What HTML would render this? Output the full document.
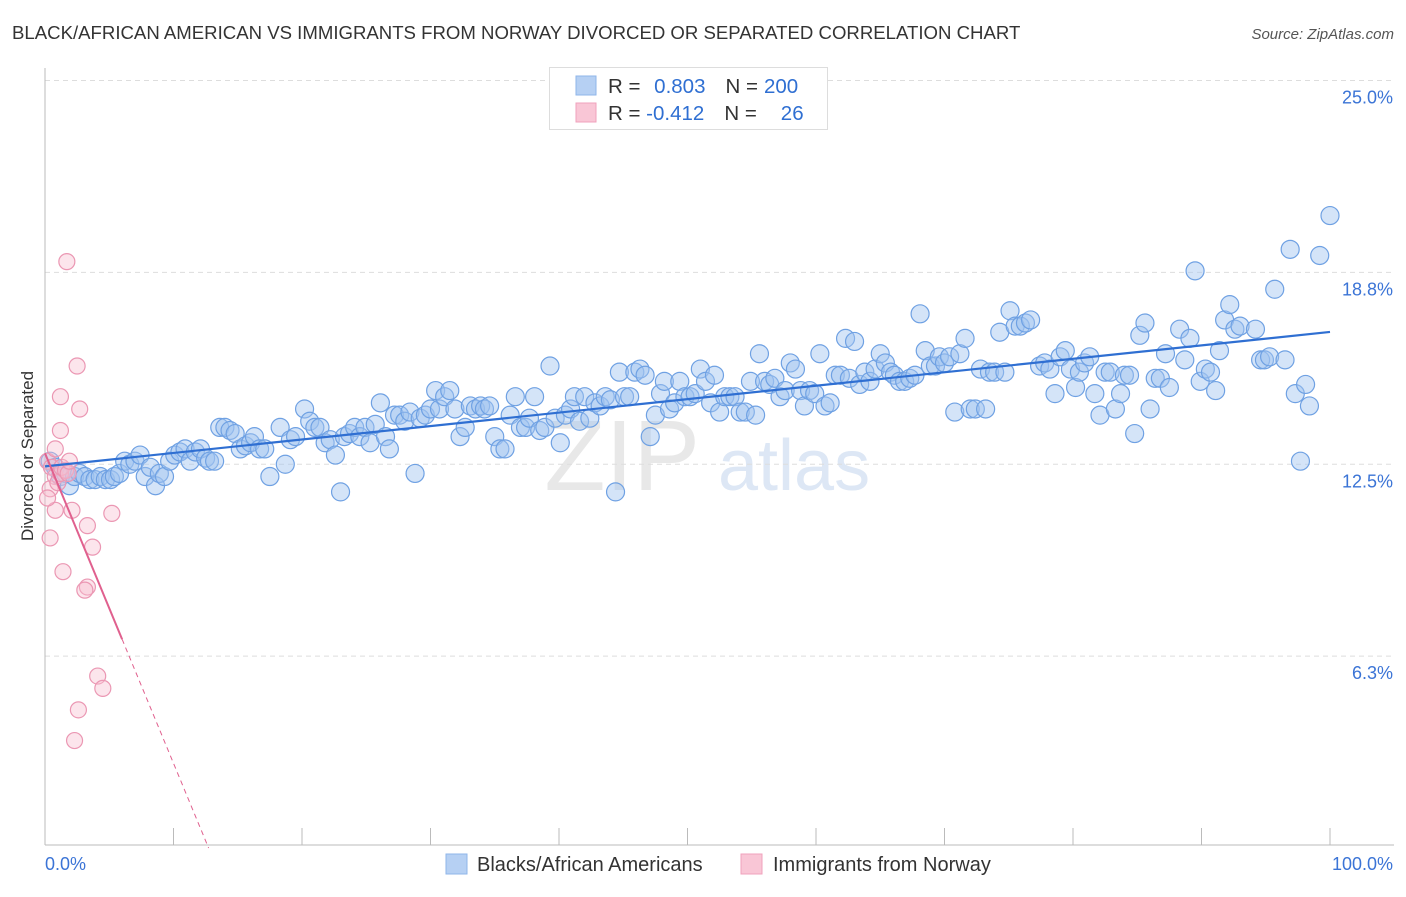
<!DOCTYPE html>
<html><head><meta charset="utf-8"><style>
body{margin:0;background:#fff;font-family:"Liberation Sans",sans-serif;}
svg text{font-family:"Liberation Sans",sans-serif;}
</style></head><body>
<svg id="chart" width="1406" height="892">
<text x="12" y="39" font-size="18.6" fill="#333">BLACK/AFRICAN AMERICAN VS IMMIGRANTS FROM NORWAY DIVORCED OR SEPARATED CORRELATION CHART</text>
<text x="1394" y="39" font-size="15" fill="#555" text-anchor="end" font-style="italic">Source: ZipAtlas.com</text>
<text x="33" y="456" font-size="17" fill="#333" text-anchor="middle" transform="rotate(-90 33 456)">Divorced or Separated</text>
<text x="700" y="490" font-size="100" fill="#e8e8e8" text-anchor="end" font-family="Liberation Serif">ZIP</text>
<text x="718" y="490" font-size="72" fill="#dde7f5">atlas</text>
<g id="grid"></g><g id="pts"></g><g id="trend"></g>
<g>
<rect x="549.5" y="67.5" width="278" height="62" fill="#fff" stroke="#ddd"/>
<rect x="576" y="76" width="20" height="19" fill="#b6d0f3" stroke="#8fb6ea"/>
<rect x="576" y="103" width="20" height="19" fill="#f9c6d6" stroke="#f0a2bc"/>
<text x="608" y="93" font-size="20.5" fill="#333">R = <tspan fill="#2f6fd2" dx="8">0.803</tspan><tspan dx="20" fill="#333">N =</tspan><tspan dx="6" fill="#2f6fd2">200</tspan></text>
<text x="608" y="120" font-size="20.5" fill="#333">R = <tspan fill="#2f6fd2">-0.412</tspan><tspan dx="20" fill="#333">N =</tspan><tspan dx="24" fill="#2f6fd2">26</tspan></text>
</g>
<g>
<rect x="446" y="854" width="21" height="20" fill="#b6d0f3" stroke="#8fb6ea"/>
<text x="477" y="871" font-size="20" fill="#333">Blacks/African Americans</text>
<rect x="741" y="854" width="21" height="20" fill="#f9c6d6" stroke="#f0a2bc"/>
<text x="773" y="871" font-size="20" fill="#333">Immigrants from Norway</text>
</g>
</svg>
<script>
const yTicks=[25,18.75,12.5,6.25];
const yTickLabels=["25.0%","18.8%","12.5%","6.3%"];
const blueX=[0.4,0.8,1.2,1.6,1.9,2.3,2.7,3.1,3.5,3.9,4.3,4.7,5.1,5.4,5.8,6.2,6.6,7.0,7.4,7.8,8.2,8.6,8.9,9.3,9.7,10.1,10.5,10.9,11.3,11.7,12.1,12.5,12.8,13.2,13.6,14.0,14.4,14.8,15.2,15.6,16.0,16.3,16.7,17.1,17.5,18.3,18.7,19.1,19.5,20.2,20.6,21.0,21.4,21.8,22.2,22.6,23.0,23.3,23.7,24.1,24.5,24.9,25.3,25.7,26.1,26.5,26.8,27.2,27.6,28.0,28.4,28.8,29.2,29.6,30.0,30.4,30.7,31.1,31.5,31.9,32.3,32.7,33.1,33.5,33.9,34.2,34.6,35.0,35.4,35.8,36.2,36.6,37.0,37.4,37.7,38.1,38.5,38.9,39.3,39.7,40.1,40.5,40.9,41.2,41.6,42.0,42.4,42.8,43.2,43.6,44.0,44.4,44.7,45.1,45.5,45.9,46.3,46.7,47.1,47.5,47.9,48.2,48.6,49.0,49.4,49.8,50.2,50.6,51.0,51.4,51.8,52.1,52.5,52.9,53.3,53.7,54.1,54.5,54.9,55.3,55.6,56.0,56.4,56.8,57.2,57.6,58.0,58.4,58.8,59.1,59.5,59.9,60.3,60.7,61.1,61.5,61.9,62.3,62.6,63.0,63.4,63.8,64.2,64.6,65.0,65.4,65.8,66.1,66.5,66.9,67.3,67.7,68.1,68.5,68.9,69.3,69.6,70.0,70.4,70.8,71.2,71.6,72.0,72.4,72.8,73.2,73.5,73.9,74.3,74.7,75.1,75.5,75.9,76.3,76.7,77.4,77.8,78.2,78.6,79.0,79.4,79.8,80.2,80.5,80.9,81.3,81.7,82.1,82.5,82.9,83.3,83.7,84.0,84.4,84.8,85.2,85.6,86.0,86.4,86.8,87.2,87.5,88.3,88.7,89.1,89.5,89.9,90.3,90.7,91.1,91.4,91.8,92.2,92.6,93.0,94.2,94.6,94.9,95.3,95.7,96.5,96.9,97.3,97.7,98.1,98.4,99.2,100];
const blueY=[12.6,12.4,12.1,12.2,11.8,12.1,12.2,12.1,12.0,12.0,12.1,12.0,12.0,12.1,12.2,12.6,12.5,12.6,12.8,12.1,12.4,11.8,12.2,12.1,12.6,12.8,12.9,13.0,12.6,12.9,13.0,12.7,12.6,12.6,13.7,13.7,13.6,13.5,13.0,13.1,13.2,13.4,13.0,13.0,12.1,13.7,12.5,13.3,13.4,14.3,13.9,13.7,13.7,13.2,13.3,12.8,11.6,13.4,13.5,13.7,13.4,13.7,13.2,13.8,14.5,13.4,13.0,14.1,14.1,13.9,14.2,12.2,14.0,14.1,14.3,14.9,14.3,14.7,14.9,14.3,13.4,13.7,14.4,14.3,14.4,14.3,14.4,13.4,13.0,13.0,14.1,14.7,13.7,13.7,14.0,14.7,13.6,13.7,15.7,14.0,13.2,14.1,14.3,14.7,13.9,14.7,14.0,14.5,14.4,14.7,14.6,11.6,15.5,14.7,14.7,15.5,15.6,15.4,13.4,14.1,14.8,15.2,14.3,14.5,15.2,14.7,14.7,14.8,15.6,15.2,14.5,15.4,14.2,14.7,14.7,14.7,14.2,14.2,15.2,14.1,16.1,15.2,15.1,15.3,14.7,14.9,15.8,15.6,14.9,14.4,14.9,14.8,16.1,14.4,14.5,15.4,15.4,16.6,15.3,16.5,15.1,15.5,15.2,15.6,16.1,15.8,15.5,15.4,15.2,15.2,15.3,15.4,17.4,16.2,15.7,15.7,16.0,15.8,16.0,14.2,16.1,16.6,14.3,14.3,15.6,14.3,15.5,15.5,16.8,15.5,17.5,17.0,17.0,17.1,17.2,15.7,15.8,15.6,14.8,16.0,16.2,15.6,15.0,15.5,15.8,16.0,14.8,14.1,15.5,15.5,14.3,14.8,15.4,15.4,13.5,16.7,17.1,14.3,15.3,15.3,16.1,15.0,16.9,15.9,16.6,18.8,15.2,15.6,15.5,14.9,16.2,17.2,17.7,16.9,17.0,16.9,15.9,15.9,16.0,18.2,15.9,19.5,14.8,12.6,15.1,14.4,19.3,20.6];
const pinkX=[0.2,0.5,0.8,0.4,1.0,1.2,1.3,1.6,1.8,1.7,2.5,1.2,2.7,1.2,1.9,0.8,0.4,0.8,2.1,3.3,5.2,3.7,1.4,3.3,3.1,4.1,4.5,2.6,2.3,0.2];
const pinkY=[12.6,12.4,12.1,11.7,11.9,12.2,12.4,12.3,12.2,19.1,15.7,14.7,14.3,13.6,12.6,13.0,10.1,11.0,11.0,10.5,10.9,9.8,9.0,8.5,8.4,5.6,5.2,4.5,3.5,11.4];
const blueTrend=[12.43,16.81];
const pinkTrend=[12.86,-1.01];
const NS="http://www.w3.org/2000/svg";
const X=v=>45+v*12.85, Y=v=>848-v*30.7;
function mk(tag,attrs,parent){const e=document.createElementNS(NS,tag);for(const k in attrs)e.setAttribute(k,attrs[k]);parent.appendChild(e);return e;}
const grid=document.getElementById('grid'),pts=document.getElementById('pts'),tr=document.getElementById('trend');
yTicks.forEach((t,i)=>{
 const l=mk('line',{x1:45,x2:1394,y1:Y(t),y2:Y(t),stroke:'#ddd','stroke-dasharray':'5,4'},grid);
 
 
 const tx=mk('text',{x:1393,y:Y(t)+23,'font-size':18,fill:'#3b74d6','text-anchor':'end'},grid);
 tx.textContent=yTickLabels[i];
 
 
});
const ya=mk('line',{x1:45,x2:45,y1:68,y2:845,stroke:'#bbb'},grid);


const xa=mk('line',{x1:45,x2:1394,y1:845,y2:845,stroke:'#bbb'},grid);


for(let i=0;i<=10;i++){const t=mk('line',{x1:X(i*10),x2:X(i*10),y1:828,y2:845,stroke:'#bbb'},grid);
 
 }
const x0=mk('text',{x:45,y:870,'font-size':18,fill:'#3b74d6'},grid);x0.textContent='0.0%';


const x1=mk('text',{x:1393,y:870,'font-size':18,fill:'#3b74d6','text-anchor':'end'},grid);x1.textContent='100.0%';


blueX.forEach((v,i)=>{const c=mk('circle',{cx:X(v),cy:Y(blueY[i]),r:9,fill:'rgba(160,196,240,0.45)',stroke:'#6fa1e3','stroke-width':1.2},pts);
 
 });
pinkX.forEach((v,i)=>{const c=mk('circle',{cx:X(v),cy:Y(pinkY[i]),r:8,fill:'rgba(248,190,208,0.4)',stroke:'#eb97b3','stroke-width':1.2},pts);
 
 });
const bl=mk('line',{x1:X(0),y1:Y(blueTrend[0]),x2:X(100),y2:Y(blueTrend[1]),stroke:'#2f6fd2','stroke-width':2.2},tr);


const pe=6,pz=-pinkTrend[0]/pinkTrend[1];
const pl=mk('line',{x1:X(0),y1:Y(pinkTrend[0]),x2:X(pe),y2:Y(pinkTrend[0]+pinkTrend[1]*pe),stroke:'#e0608e','stroke-width':2},tr);


const pd=mk('line',{x1:X(pe),y1:Y(pinkTrend[0]+pinkTrend[1]*pe),x2:X(pz),y2:Y(0),stroke:'#e0608e','stroke-width':1,'stroke-dasharray':'5,4'},tr);


</script>
</body></html>
